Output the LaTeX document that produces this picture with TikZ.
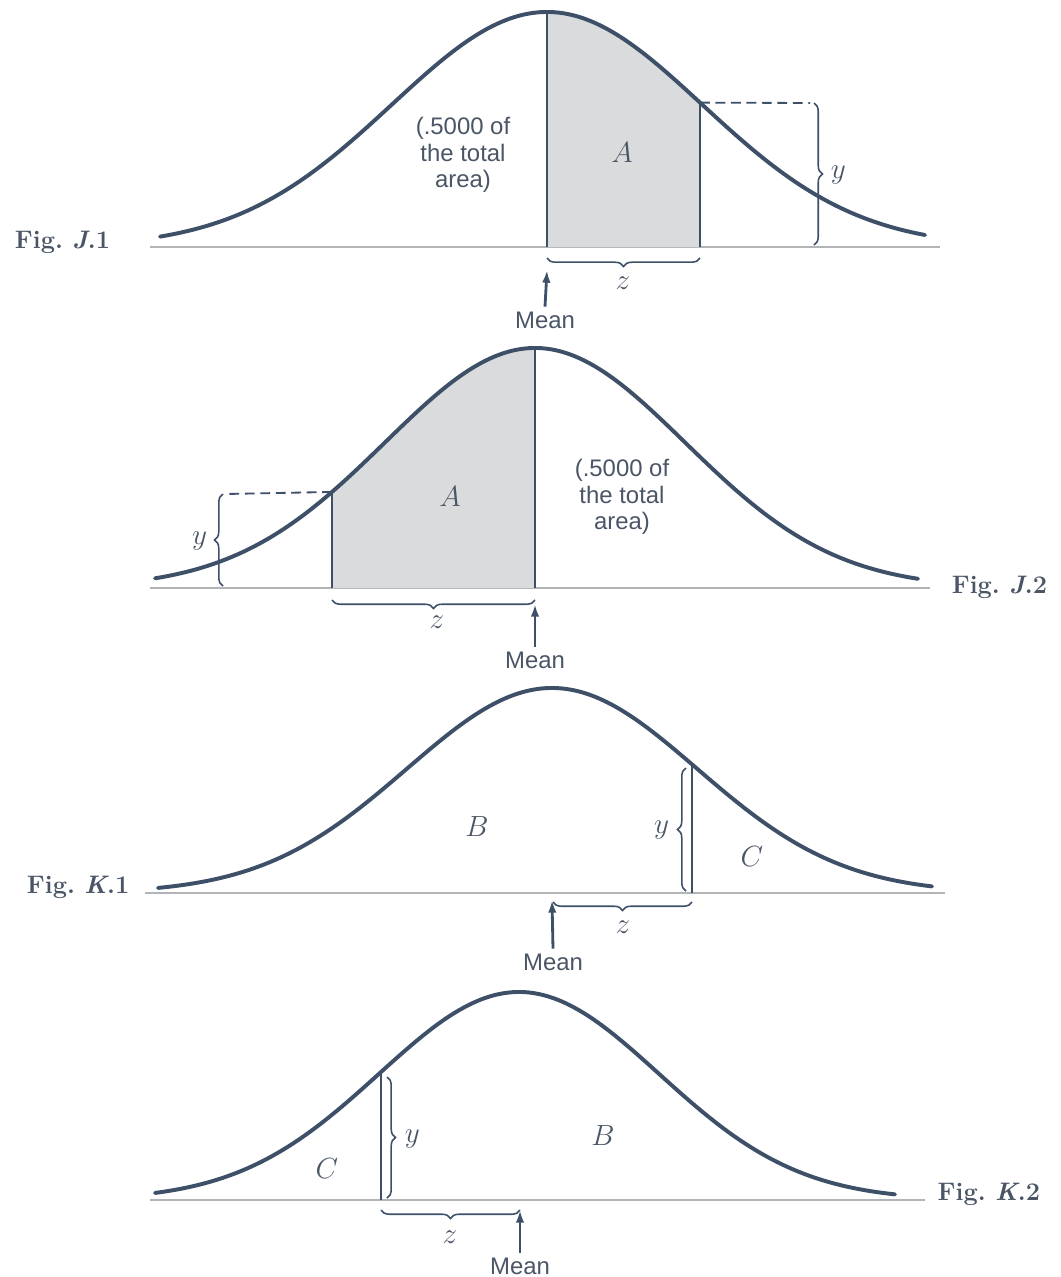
\documentclass[tikz,border=0pt]{standalone}
\usepackage{fontspec}
\newfontfamily\labelfont{Liberation Sans}
\usetikzlibrary{arrows.meta, decorations.pathreplacing, positioning}

\definecolor{inkblue}{HTML}{3E5068}
\definecolor{shadegray}{HTML}{D9DBDD}
\definecolor{rulegray}{HTML}{B2B5B8}
\definecolor{textgray}{HTML}{4A5566}

\begin{document}
\begin{tikzpicture}[
  x=0.025cm, y=0.025cm,
  bell/.style={line width=2.8pt, color=inkblue, line cap=round},
  edge/.style={line width=1.5pt, color=inkblue},
  base/.style={line width=2pt, color=rulegray},
  area/.style={fill=shadegray},
  guide/.style={line width=1.3pt, dash pattern=on 7pt off 4pt, color=inkblue},
  brc/.style={decorate, decoration={brace, amplitude=6pt}, line width=1.1pt, color=inkblue},
  arrow/.style={-{Latex[length=9pt,width=6pt]}, line width=2pt, color=inkblue},
  lbl/.style={font=\fontsize{17}{19}\labelfont, color=textgray, align=center},
  var/.style={font=\fontsize{20}{24}\selectfont, color=textgray},
  fig/.style={font=\fontsize{18}{22}\selectfont\bfseries, color=textgray},
  declare function={g(\x,\m,\s,\h)=\h*exp(-0.5*((\x-\m)/\s)^2);}
]
\useasboundingbox[fill=white] (0,0) rectangle (1060,-1277);

% Fig. J.1
\coordinate (peakA) at (547,-12);
\coordinate (cutA) at (700,{-247+g(700,547,155,235)});
\draw[base] (150,-247) -- (940,-247);
\fill[area] (547,-247) -- plot[domain=547:700, samples=40] (\x,{-247+g(\x,547,155,235)}) -- (700,-247) -- cycle;
\draw[bell] plot[domain=160:925, samples=120, smooth] (\x,{-247+g(\x,547,155,235)});
\draw[edge] (547,-247) -- (peakA);
\draw[edge] (700,-247) -- (cutA);
\draw[guide] (cutA) -- (810,-103);
\draw[brc] (814,-103) -- (814,-245);
\draw[brc] (700,-258) -- (547,-258);
\node[lbl] (halfA) at (463,-155) {(.5000 of\\the total\\area)};
\node[var] (areaA) at (622,-153) {$A$};
\node[var, anchor=west] (yA) at (826,-175) {$y$};
\node[var] (zA) at (623,-283) {$z$};
\node[lbl] (meanA) at (545,-320) {Mean};
\coordinate (mA) at (547,-270);
\draw[arrow] (meanA.north) -- (mA);
\node[fig, anchor=west] (figJa) at (10,-242) {Fig.\ \textit{J}.1};

% Fig. J.2
\coordinate (peakB) at (535,-348);
\coordinate (cutB) at (332,{-588+g(332,535,150,240)});
\draw[base] (150,-588) -- (930,-588);
\fill[area] (332,-588) -- plot[domain=332:535, samples=40] (\x,{-588+g(\x,535,150,240)}) -- (535,-588) -- cycle;
\draw[bell] plot[domain=155:918, samples=120, smooth] (\x,{-588+g(\x,535,150,240)});
\draw[edge] (535,-588) -- (peakB);
\draw[edge] (332,-588) -- (cutB);
\draw[guide] (cutB) -- (226,-494);
\draw[brc] (223,-586) -- (223,-494);
\draw[brc] (535,-600) -- (332,-600);
\node[lbl] (halfB) at (622,-497) {(.5000 of\\the total\\area)};
\node[var] (areaB) at (450,-497) {$A$};
\node[var, anchor=east] (yB) at (212,-541) {$y$};
\node[var] (zB) at (437,-622) {$z$};
\node[lbl] (meanB) at (535,-660) {Mean};
\coordinate (mB) at (535,-604);
\draw[arrow] (meanB.north) -- (mB);
\node[fig, anchor=east] (figJb) at (1052,-587) {Fig.\ \textit{J}.2};

% Fig. K.1
\coordinate (cutC) at (692,{-893+g(692,552,145,205)});
\draw[base] (145,-893) -- (945,-893);
\draw[bell] plot[domain=158:932, samples=120, smooth] (\x,{-893+g(\x,552,145,205)});
\draw[edge] (692,-893) -- (cutC);
\draw[brc] (686,-891) -- (686,-768);
\draw[brc] (692,-902) -- (553,-902);
\node[var] (bodyC) at (477,-827) {$B$};
\node[var] (tailC) at (752,-857) {$C$};
\node[var, anchor=east] (yC) at (674,-830) {$y$};
\node[var] (zC) at (623,-927) {$z$};
\node[lbl] (meanC) at (553,-962) {Mean};
\coordinate (mC) at (552,-900);
\draw[arrow] (meanC.north) -- (mC);
\node[fig, anchor=west] (figKa) at (22,-887) {Fig.\ \textit{K}.1};

% Fig. K.2
\coordinate (cutD) at (381,{-1200+g(381,519,140,208)});
\draw[base] (150,-1200) -- (925,-1200);
\draw[bell] plot[domain=155:895, samples=120, smooth] (\x,{-1200+g(\x,519,140,208)});
\draw[edge] (381,-1200) -- (cutD);
\draw[brc] (387,-1077) -- (387,-1198);
\draw[brc] (520,-1210) -- (381,-1210);
\node[var] (tailD) at (327,-1169) {$C$};
\node[var] (bodyD) at (603,-1136) {$B$};
\node[var, anchor=west] (yD) at (400,-1139) {$y$};
\node[var] (zD) at (450,-1237) {$z$};
\node[lbl] (meanD) at (520,-1266) {Mean};
\coordinate (mD) at (520,-1210);
\draw[arrow] (meanD.north) -- (mD);
\node[fig, anchor=east] (figKb) at (1045,-1194) {Fig.\ \textit{K}.2};
\end{tikzpicture}
\end{document}
